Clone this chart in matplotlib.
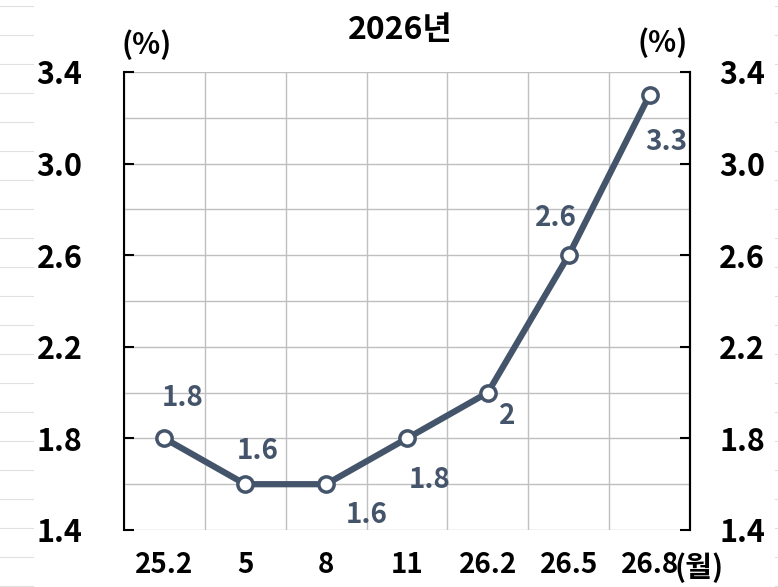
import matplotlib
matplotlib.use("Agg")
import matplotlib.pyplot as plt
from matplotlib.lines import Line2D
import numpy as np

plt.rcParams['font.family'] = ['Noto Sans CJK KR', 'DejaVu Sans']

# data
months = ["25.2", "5", "8", "11", "26.2", "26.5", "26.8"]
rates = [1.8, 1.6, 1.6, 1.8, 2.0, 2.6, 3.3]
rate_labels = ["1.8", "1.6", "1.6", "1.8", "2", "2.6", "3.3"]
label_offsets = [(13, 29), (9, 24), (29, -22), (16, -30), (14, -17), (-9, 27), (12, -34)]
yticks = [1.4, 1.8, 2.2, 2.6, 3.0, 3.4]

LINE = "#44546A"

fig = plt.figure(figsize=(7.78, 5.87), dpi=100)
ax = fig.add_axes([124 / 778, 1 - 530 / 587, 566 / 778, 458 / 587])

x = np.arange(len(months))
ax.set_xlim(-0.5, len(months) - 0.5)
ax.set_ylim(1.4, 3.4)

# grid: horizontal every 0.2, vertical at category boundaries
for yv in np.arange(1.4, 3.41, 0.2):
    ax.axhline(yv, color="#BFBFBF", lw=1, zorder=0)
for xv in np.arange(-0.5, len(months) - 0.4, 1):
    ax.axvline(xv, color="#BFBFBF", lw=1, zorder=0)

ax.plot(x, rates, color=LINE, lw=4.5, marker="o", ms=11,
        mfc="white", mec=LINE, mew=2.5, zorder=3, solid_capstyle="round")

for xi, yi, lab, off in zip(x, rates, rate_labels, label_offsets):
    ax.annotate(lab, (xi, yi), xytext=off, textcoords="offset points",
                ha="center", va="center", fontsize=20, fontweight="bold",
                color=LINE)

for s in ["top", "bottom"]:
    ax.spines[s].set_visible(False)
ax.spines["left"].set_linewidth(1.5)
ax.spines["right"].set_linewidth(1.5)

ax.set_xticks(x)
ax.set_xticklabels(months, fontsize=20, fontweight="bold")
ax.tick_params(axis="x", length=0, pad=15)

ax.set_yticks(yticks)
ax.set_yticklabels([f"{v:.1f}" for v in yticks], fontsize=22, fontweight="bold")
ax.tick_params(axis="y", direction="in", length=7, width=1.5, pad=30)

ax2 = ax.twinx()
ax2.set_ylim(1.4, 3.4)
ax2.set_yticks(yticks)
ax2.set_yticklabels([f"{v:.1f}" for v in yticks], fontsize=22, fontweight="bold")
ax2.tick_params(axis="y", direction="in", length=7, width=1.5, pad=21)
for s in ["top", "bottom", "left"]:
    ax2.spines[s].set_visible(False)
ax2.spines["right"].set_linewidth(1.5)

fig.text(400 / 778, 1 - 30 / 587, "2026년", ha="center", va="center",
         fontsize=23, fontweight="bold")
fig.text(147 / 778, 1 - 45 / 587, "(%)", ha="center", va="center",
         fontsize=21, fontweight="bold")
fig.text(663 / 778, 1 - 43 / 587, "(%)", ha="center", va="center",
         fontsize=21, fontweight="bold")
fig.text(699 / 778, 1 - 568 / 587, "(월)", ha="center", va="center",
         fontsize=21, fontweight="bold")

# faint sheet lines at the edges
for yy in np.arange(6, 587, 29):
    fig.add_artist(Line2D([0, 33 / 778], [1 - yy / 587] * 2, color="#E0E0E0", lw=0.8))
    fig.add_artist(Line2D([775 / 778, 1], [1 - yy / 587] * 2, color="#E0E0E0", lw=0.8))

fig.savefig("out.png", dpi=100)
